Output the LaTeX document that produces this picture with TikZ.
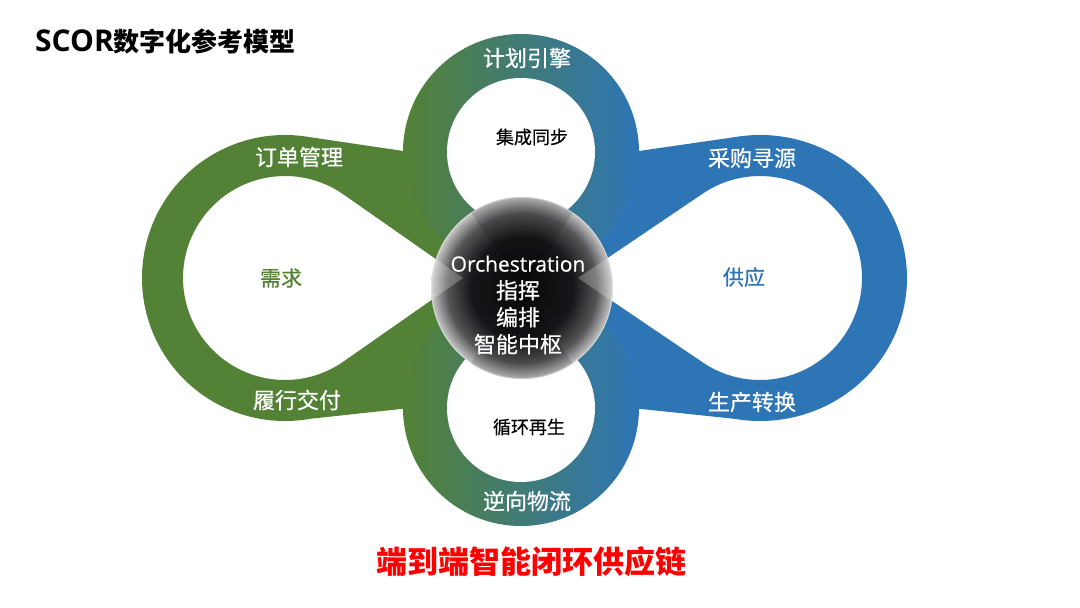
\documentclass[tikz,border=0pt]{standalone}
\usepackage{fontspec}
\setmainfont{Noto Sans CJK SC}
\newfontfamily\cjkmed[FakeBold=0.6]{Noto Sans CJK SC}
\newfontfamily\latinf{Open Sans}
\newfontfamily\latinmed[FakeBold=0.5]{Open Sans}
\usetikzlibrary{calc}
\definecolor{lobeG}{RGB}{83,129,53}
\definecolor{lobeB}{RGB}{46,117,182}
\definecolor{orbA}{RGB}{8,8,10}
\definecolor{orbB}{RGB}{22,22,26}
\definecolor{orbC}{RGB}{85,85,88}
\definecolor{orbD}{RGB}{200,200,200}
\definecolor{sloganred}{RGB}{255,0,0}
\pgfdeclareradialshading{orb}{\pgfpoint{0bp}{0bp}}{color(0bp)=(orbA); color(14bp)=(orbB); color(20.5bp)=(orbC); color(25bp)=(orbD); color(50bp)=(orbD)}
\begin{document}
\begin{tikzpicture}[x=1pt,y=-1pt,
  lbl/.style={text=white, inner sep=0pt, font=\cjkmed\fontsize{22}{26}\selectfont},
  inlbl/.style={text=black, inner sep=0pt, font=\cjkmed\fontsize{18}{22}\selectfont},
  corelbl/.style={inner sep=0pt, font=\cjkmed\fontsize{21}{26}\selectfont},
  hubtxt/.style={text=white, inner sep=0pt, align=center, font=\cjkmed\fontsize{22}{27}\selectfont}]
\fill[white] (0,0) rectangle (1080,608);
\useasboundingbox (0,0) rectangle (1080,608);

% left lobe (demand)
\fill[lobeG, even odd rule]
  (520,282) -- (410,152) -- ($(285,278)+(-80:143)$)
  arc[start angle=-80, end angle=-280, radius=143] -- (410,408) -- cycle
  (463,278) -- ($(285,278)+(-55:102)$)
  arc[start angle=-55, end angle=-305, radius=102] -- cycle;

% right lobe (supply)
\fill[lobeB, even odd rule]
  (524,282) -- (632,152) -- ($(760,278)+(-100:147 and 143)$)
  arc[start angle=-100, end angle=100, x radius=147, y radius=143] -- (632,408) -- cycle
  (578,278) -- ($(760,278)+(-124.1:102)$)
  arc[start angle=-124.1, end angle=124.1, radius=102] -- cycle;

% top ring
\shade[left color=lobeG, right color=lobeB] (521,152) circle (118);
\fill[white] (521,152) circle (74);
% bottom ring
\shade[left color=lobeG, right color=lobeB] (521,408) circle (118);
\fill[white] (521,408) circle (74);

% central orb
\coordinate (oc) at (522,288);
\shade[shading=orb] (oc) circle (91);
\fill[black, opacity=0.12] (oc) -- ++(-124:91) arc[start angle=-124, end angle=-56, radius=91] -- cycle;
\fill[black, opacity=0.12] (oc) -- ++(56:91) arc[start angle=56, end angle=124, radius=91] -- cycle;
\begin{scope}
  \clip (oc) circle (91);
  \fill[white, opacity=0.25] (463,278) -- (420,248) -- (420,308) -- cycle;
  \fill[white, opacity=0.25] (578,278) -- (625,246) -- (625,310) -- cycle;
\end{scope}
\draw[white, opacity=0.35, line width=1pt] (oc) circle (90.5);

% labels
\node[lbl] (plan) at (527,58) {计划引擎};
\node[inlbl] (sync) at (532,137) {集成同步};
\node[lbl] (order) at (299,157) {订单管理};
\node[corelbl, text=lobeG] (demand) at (281,278) {需求};
\node[lbl] (fulfil) at (297,400) {履行交付};
\node[lbl] (source) at (752,158) {采购寻源};
\node[corelbl, text=lobeB] (supply) at (744,277) {供应};
\node[lbl] (make) at (752,402) {生产转换};
\node[inlbl] (recycle) at (529,427) {循环再生};
\node[lbl] (reverse) at (527,501) {逆向物流};
\node[hubtxt] (hub) at (518,305) {{\latinmed\fontsize{21}{27}\selectfont Orchestration}\\指挥\\编排\\智能中枢};

\node[anchor=base west, inner sep=0pt] (title) at (35,51)
  {{\latinf\bfseries\fontsize{30}{34}\selectfont SCOR}{\bfseries\fontsize{26}{30}\selectfont 数字化参考模型}};
\node[text=sloganred, inner sep=0pt, font=\bfseries\fontsize{31}{36}\selectfont] (slogan) at (531,562) {端到端智能闭环供应链};
\end{tikzpicture}
\end{document}
